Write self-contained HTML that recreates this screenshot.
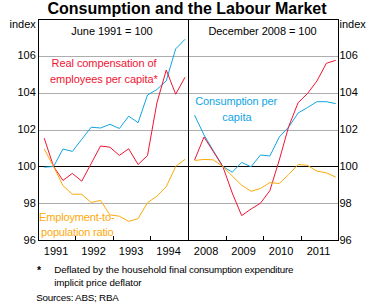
<!DOCTYPE html>
<html><head><meta charset="utf-8"><style>
html,body{margin:0;padding:0;background:#fff;}
body{width:376px;height:307px;overflow:hidden;position:relative;}
svg{position:absolute;left:0;top:0;}
text{font-family:"Liberation Sans",sans-serif;font-size:11px;fill:#000;}
.t{font-weight:bold;font-size:16px;}
.f{font-size:9.8px;}
</style></head><body>
<svg width="376" height="307" viewBox="0 0 376 307">
<line x1="39" y1="56.5" x2="338" y2="56.5" stroke="#adadad" stroke-width="1"/>
<line x1="39" y1="93.5" x2="338" y2="93.5" stroke="#adadad" stroke-width="1"/>
<line x1="39" y1="130.5" x2="338" y2="130.5" stroke="#adadad" stroke-width="1"/>
<line x1="39" y1="203.5" x2="338" y2="203.5" stroke="#adadad" stroke-width="1"/>
<line x1="38" y1="166.5" x2="338" y2="166.5" stroke="#000" stroke-width="1"/>

<g shape-rendering="crispEdges">
<rect x="38.5" y="19.5" width="300" height="221" fill="none" stroke="#000" stroke-width="1"/>
<line x1="188.5" y1="19" x2="188.5" y2="241" stroke="#000" stroke-width="1"/>
<line x1="75.5" y1="236" x2="75.5" y2="240" stroke="#000" stroke-width="1"/>
<line x1="113.5" y1="236" x2="113.5" y2="240" stroke="#000" stroke-width="1"/>
<line x1="150.5" y1="236" x2="150.5" y2="240" stroke="#000" stroke-width="1"/>
<line x1="226.5" y1="236" x2="226.5" y2="240" stroke="#000" stroke-width="1"/>
<line x1="263.5" y1="236" x2="263.5" y2="240" stroke="#000" stroke-width="1"/>
<line x1="301.5" y1="236" x2="301.5" y2="240" stroke="#000" stroke-width="1"/>

</g>
<text id="title" x="187" y="14" text-anchor="middle" class="t">Consumption and the Labour Market</text>
<text id="idxL" x="35.8" y="28" text-anchor="end">index</text>
<text id="idxR" x="339.5" y="28">index</text>
<text id="yl106" x="35.8" y="59" text-anchor="end">106</text>
<text id="yr106" x="339.5" y="59">106</text>
<text id="yl104" x="35.8" y="96" text-anchor="end">104</text>
<text id="yr104" x="339.5" y="96">104</text>
<text id="yl102" x="35.8" y="133" text-anchor="end">102</text>
<text id="yr102" x="339.5" y="133">102</text>
<text id="yl100" x="35.8" y="170" text-anchor="end">100</text>
<text id="yr100" x="339.5" y="170">100</text>
<text id="yl98" x="35.8" y="207" text-anchor="end">98</text>
<text id="yr98" x="339.5" y="207">98</text>
<text id="yl96" x="35.8" y="244" text-anchor="end">96</text>
<text id="yr96" x="339.5" y="244">96</text>
<text id="x1991" x="56.05" y="255" text-anchor="middle">1991</text>
<text id="x1992" x="93.55" y="255" text-anchor="middle">1992</text>
<text id="x1993" x="131.05" y="255" text-anchor="middle">1993</text>
<text id="x1994" x="168.55" y="255" text-anchor="middle">1994</text>
<text id="x2008" x="206.05" y="255" text-anchor="middle">2008</text>
<text id="x2009" x="243.55" y="255" text-anchor="middle">2009</text>
<text id="x2010" x="281.05" y="255" text-anchor="middle">2010</text>
<text id="x2011" x="318.55" y="255" text-anchor="middle">2011</text>
<text id="june" x="112" y="35" text-anchor="middle" textLength="81.28" lengthAdjust="spacing">June 1991 = 100</text>
<text id="dec" x="262.5" y="35" text-anchor="middle" textLength="108.17" lengthAdjust="spacing">December 2008 = 100</text>
<text id="real1" x="104.05" y="67" text-anchor="middle" style="fill:#f01434" textLength="104.90" lengthAdjust="spacing">Real compensation of</text>
<text id="real2" x="103.9" y="83" text-anchor="middle" style="fill:#f01434" textLength="107.80" lengthAdjust="spacing">employees per capita*</text>
<text id="cons1" x="236.2" y="105" text-anchor="middle" style="fill:#0fa5e4" textLength="81.78" lengthAdjust="spacing">Consumption per</text>
<text id="cons2" x="236.9" y="121" text-anchor="middle" style="fill:#0fa5e4">capita</text>
<text id="emp1" x="39" y="221" style="fill:#fcaa0a" textLength="75.64" lengthAdjust="spacing">Employment-to-</text>
<text id="emp2" x="41" y="236.3" style="fill:#fcaa0a" textLength="72.73" lengthAdjust="spacing">population ratio</text>

<polyline points="44.20,167.20 53.59,166.50 62.98,149.00 72.37,151.40 81.76,139.30 91.15,127.20 100.54,128.00 109.93,124.30 119.32,128.50 128.71,116.20 138.10,122.70 147.49,95.00 156.88,89.50 166.27,80.80 175.66,48.90 185.05,39.30" fill="none" stroke="#0fa5e4" stroke-width="1.0"/>
<polyline points="44.20,138.20 53.59,166.50 62.98,180.40 72.37,173.40 81.76,181.20 91.15,163.60 100.54,146.00 109.93,147.20 119.32,155.40 128.71,148.80 138.10,164.50 147.49,155.60 156.88,103.00 166.27,70.00 175.66,94.20 185.05,77.20" fill="none" stroke="#f01434" stroke-width="1.0"/>
<polyline points="44.20,149.00 53.59,166.50 62.98,185.70 72.37,194.20 81.76,194.30 91.15,202.50 100.54,200.40 109.93,214.90 119.32,216.20 128.71,221.40 138.10,218.60 147.49,202.70 156.88,196.20 166.27,186.70 175.66,166.50 185.05,159.30" fill="none" stroke="#fcaa0a" stroke-width="1.0"/>
<polyline points="194.60,115.20 204.01,135.00 213.42,150.80 222.83,166.50 232.24,172.20 241.65,162.40 251.06,166.80 260.47,155.00 269.88,156.00 279.29,137.00 288.70,127.00 298.11,113.00 307.52,107.50 316.93,101.70 326.34,101.70 335.75,103.60" fill="none" stroke="#0fa5e4" stroke-width="1.0"/>
<polyline points="194.60,160.00 204.01,137.00 213.42,151.70 222.83,166.50 232.24,193.00 241.65,215.60 251.06,209.00 260.47,203.20 269.88,190.60 279.29,160.00 288.70,126.50 298.11,102.70 307.52,93.50 316.93,81.00 326.34,63.30 335.75,60.30" fill="none" stroke="#f01434" stroke-width="1.0"/>
<polyline points="194.60,160.50 204.01,159.40 213.42,159.90 222.83,166.50 232.24,176.00 241.65,185.20 251.06,191.30 260.47,188.50 269.88,182.50 279.29,183.50 288.70,174.50 298.11,164.50 307.52,165.40 316.93,171.10 326.34,172.80 335.75,177.10" fill="none" stroke="#fcaa0a" stroke-width="1.0"/>

<text id="ast" x="37" y="274" class="f" style="font-size:10.5px;font-weight:bold">*</text>
<text id="foot1a" x="54.2" y="273" class="f" textLength="132.50" lengthAdjust="spacing">Deflated by the household final</text>
<text id="foot1b" x="189" y="273" class="f" textLength="104.50" lengthAdjust="spacing">consumption expenditure</text>
<text id="foot2" x="54.2" y="286" class="f" textLength="87.30" lengthAdjust="spacing">implicit price deflator</text>
<text id="src" x="36.3" y="301" class="f" textLength="82.44" lengthAdjust="spacing">Sources: ABS; RBA</text>

</svg>
</body></html>
